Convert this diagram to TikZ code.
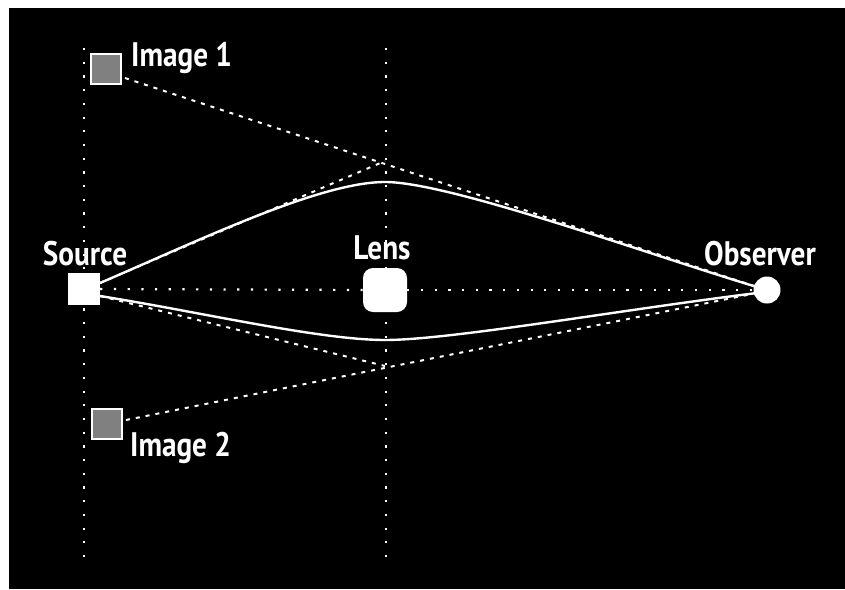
\documentclass[tikz,border=0pt]{standalone}
\usepackage{fontspec}
\setmainfont{PT Sans}[FakeStretch=0.86]
\begin{document}
\begin{tikzpicture}[x=1pt,y=-1pt,
  lbl/.style={text=white,font=\fontsize{34}{34}\selectfont\bfseries,inner sep=0pt},
  dotline/.style={white,line width=2.2pt,dash pattern=on 2.2pt off 11.5pt},
  dashline/.style={white,line width=2pt,dash pattern=on 4pt off 6pt},
  ray/.style={white,line width=2.4pt},
  imgbox/.style={draw=white,line width=2pt,fill=imggray,minimum size=30pt,inner sep=0pt},
]
\definecolor{imggray}{RGB}{128,128,128}
\useasboundingbox (0,0) rectangle (845,589);
\fill[white] (0,0) rectangle (845,589);
\fill[black] (9,8) rectangle (845,589);

% dotted reference lines
\coordinate (v1t) at (84,48);
\coordinate (v1b) at (84,560);
\coordinate (v2t) at (386,48);
\coordinate (v2b) at (386,560);
\draw[dotline] (v1t) -- (v1b);
\draw[dotline] (v2t) -- (v2b);

% nodes
\node[fill=white,minimum size=32pt,inner sep=0pt] (src) at (84,289) {};
\node[fill=white,minimum size=44pt,inner sep=0pt,rounded corners=10pt] (lens) at (385,290) {};
\node[circle,fill=white,minimum size=27pt,inner sep=0pt] (obs) at (767,290) {};
\node[imgbox] (img1) at (106,69) {};
\node[imgbox] (img2) at (107,424) {};

% labels
\node[lbl,anchor=base] (srcl) at (85,265) {Source};
\node[lbl,anchor=base] (lensl) at (382,259) {Lens};
\node[lbl,anchor=base] (obsl) at (760,265) {Observer};
\node[lbl,anchor=base west] (img1l) at (131,66) {Image 1};
\node[lbl,anchor=base west] (img2l) at (130,456) {Image 2};

% coordinates on the rays
\coordinate (s1) at (100,283);
\coordinate (s2) at (100,296);
\coordinate (o1) at (757,287);
\coordinate (o2) at (757,293);
\coordinate (d1) at (385,161);
\coordinate (d2) at (385,366);
\coordinate (i1) at (125,78);
\coordinate (i2) at (126,420);

% horizontal dotted axis
\draw[dotline] (src.east) -- (lens.west);
\draw[dotline] (lens.east) -- (obs.west);

% dashed apparent rays
\draw[dashline] (i1) -- (o1);
\draw[dashline] (i2) -- (o2);
\draw[dashline] (s1) -- (d1);
\draw[dashline] (s2) -- (d2);

% actual light paths
\draw[ray] (s1) .. controls (200,240) and (320,182) .. (385,182)
  .. controls (450,182) and (650,255) .. (o1);
\draw[ray] (s2) .. controls (200,312) and (320,340) .. (385,340)
  .. controls (450,340) and (620,310) .. (o2);
\end{tikzpicture}
\end{document}
